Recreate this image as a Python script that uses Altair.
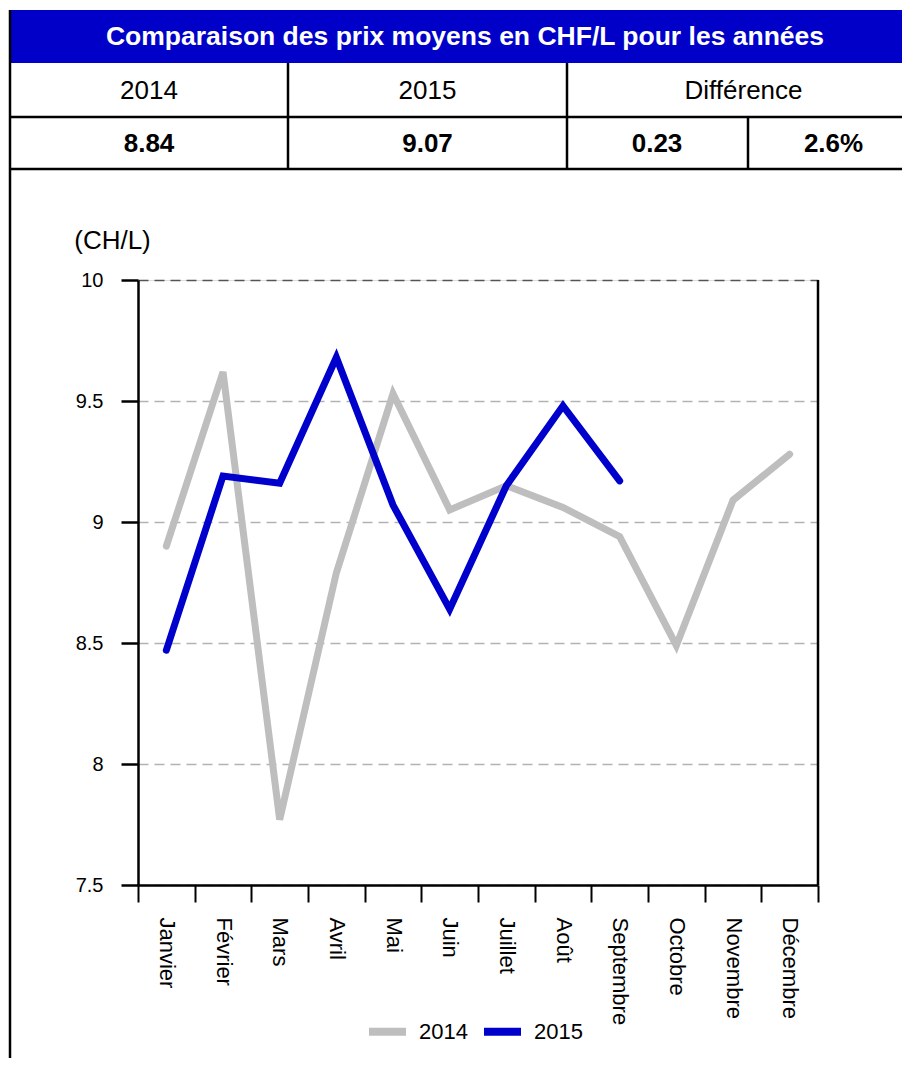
import altair as alt
import pandas as pd

months = ["Janvier", "Février", "Mars", "Avril", "Mai", "Juin", "Juillet",
          "Août", "Septembre", "Octobre", "Novembre", "Décembre"]
prices_2014 = [8.90, 9.62, 7.77, 8.79, 9.53, 9.05, 9.15, 9.06, 8.94, 8.49, 9.09, 9.28]
prices_2015 = [8.47, 9.19, 9.16, 9.68, 9.07, 8.64, 9.15, 9.48, 9.17]
years = ["2014", "2015"]
y_ticks = [7.5, 8, 8.5, 9, 9.5, 10]

title_text = "Comparaison des prix moyens en CHF/L pour les années"
diff_label = "Différence"
avg_values = ["8.84", "9.07"]
diff_values = ["0.23", "2.6%"]

rows = []
for m, v in zip(months, prices_2014):
    rows.append({"mois": m, "annee": "2014", "prix": v})
for m, v in zip(months, prices_2015):
    rows.append({"mois": m, "annee": "2015", "prix": v})
df = pd.DataFrame(rows)

FONT = "Liberation Sans"
W, H = 680, 605
GREY = "#BEBEBE"
BLUE = "#0000CC"

lines = alt.Chart(df).mark_line(strokeWidth=7, strokeCap="round").encode(
    x=alt.X("mois:N", sort=months, bandPosition=0.5,
            scale=alt.Scale(type="band", paddingInner=0, paddingOuter=0),
            axis=alt.Axis(title=None, labelAngle=90, labelFontSize=22, labelFont=FONT,
                          labelColor="black", tickBand="extent", tickSize=17, tickWidth=2,
                          tickColor="black", domainColor="black", domainWidth=2.5,
                          labelPadding=15, grid=False)),
    y=alt.Y("prix:Q", scale=alt.Scale(domain=[7.5, 10], nice=False, zero=False),
            axis=alt.Axis(values=y_ticks, format="~g", title="(CH/L)", titleAngle=0,
                          titleX=-26, titleY=-32, titleAlign="center",
                          titleBaseline="alphabetic", titleFontSize=26,
                          titleFontWeight="normal", titleFont=FONT, titleColor="black",
                          labelFontSize=20, labelFont=FONT, labelColor="black",
                          tickSize=17, tickWidth=2.5, tickColor="black",
                          labelPadding=18, domainColor="black", domainWidth=2.5,
                          grid=True, gridDash=[10, 6], gridWidth=1.5,
                          gridColor={"condition": {"test": "datum.value == 10", "value": "#555555"},
                                     "value": "#B3B3B3"})),
    color=alt.Color("annee:N", scale=alt.Scale(domain=years, range=[GREY, BLUE]),
                    legend=alt.Legend(title=None, orient="none", direction="horizontal",
                                      legendX=227, legendY=729, symbolType="stroke",
                                      symbolStrokeWidth=8, symbolSize=1369,
                                      labelFontSize=22, labelFont=FONT, labelColor="black",
                                      labelOffset=9, columnPadding=0)),
    order=alt.Order("annee:N"),
)

one = alt.Data(values=[{}])

def rule(x, x2, y, y2, w=2.5):
    enc = {"x": alt.value(x), "y": alt.value(y)}
    if x2 is not None:
        enc["x2"] = alt.value(x2)
    if y2 is not None:
        enc["y2"] = alt.value(y2)
    return alt.Chart(one).mark_rule(color="black", strokeWidth=w).encode(**enc)

def text(t, x, y, bold=False, color="black", size=26):
    return alt.Chart(one).mark_text(font=FONT, fontSize=size, color=color,
                                    fontWeight="bold" if bold else "normal",
                                    align="center", baseline="middle").encode(
        x=alt.value(x), y=alt.value(y), text=alt.value(t))

blue_bar = alt.Chart(one).mark_rect(color="#0000C8").encode(
    x=alt.value(-129), x2=alt.value(800), y=alt.value(-270), y2=alt.value(-217))

deco = [
    blue_bar,
    rule(-128, None, -270, 800),
    rule(-128, 800, -163, None),
    rule(-128, 800, -111, None),
    rule(150, None, -217, -111),
    rule(429, None, -217, -111),
    rule(610, None, -163, -111),
    rule(W, None, 0, H),
    text(title_text, 327, -243, bold=True, color="white", size=26.5),
    text(years[0], 11, -189),
    text(years[1], 289.5, -189),
    text(diff_label, 605.5, -189),
    text(avg_values[0], 11, -136, bold=True),
    text(avg_values[1], 289.5, -136, bold=True),
    text(diff_values[0], 519, -136, bold=True),
    text(diff_values[1], 695.5, -136, bold=True),
]

chart = alt.layer(lines, *deco).properties(
    width=W, height=H,
    padding={"left": 130, "top": 272, "right": 84, "bottom": 173},
    autosize=alt.AutoSizeParams(type="none"),
).configure_view(stroke=None).configure(background="white")

chart.save("out.html", embed_options={"renderer": "svg", "actions": False})
